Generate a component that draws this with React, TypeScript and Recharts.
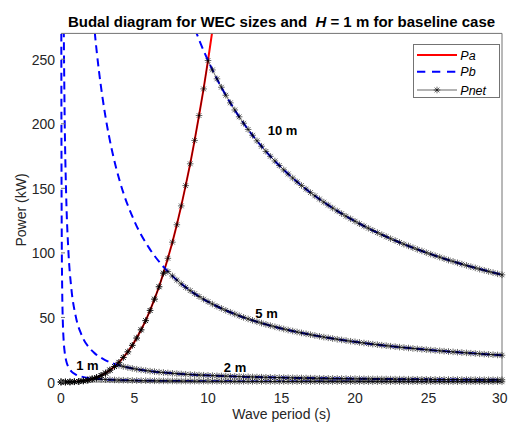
import React from "react";
import { LineChart, Line, XAxis, YAxis, ReferenceDot } from "recharts";

// wave periods (s) used for the net power curves, 0..30
const PERIODS = [
  0, 0.3, 0.61, 0.91, 1.21, 1.52, 1.82, 2.12, 2.42, 2.73, 3.03, 3.33, 3.64, 3.94, 4.24, 4.55, 4.85, 5.15, 5.45, 5.76,
  6.06, 6.36, 6.67, 6.97, 7.27, 7.58, 7.88, 8.18, 8.48, 8.79, 9.09, 9.39, 9.7, 10, 10.3, 10.61, 10.91, 11.21, 11.52, 11.82,
  12.12, 12.42, 12.73, 13.03, 13.33, 13.64, 13.94, 14.24, 14.55, 14.85, 15.15, 15.45, 15.76, 16.06, 16.36, 16.67, 16.97,
  17.27, 17.58, 17.88, 18.18, 18.48, 18.79, 19.09, 19.39, 19.7, 20, 20.3, 20.61, 20.91, 21.21, 21.52, 21.82, 22.12, 22.42,
  22.73, 23.03, 23.33, 23.64, 23.94, 24.24, 24.55, 24.85, 25.15, 25.45, 25.76, 26.06, 26.36, 26.67, 26.97, 27.27, 27.58,
  27.88, 28.18, 28.48, 28.79, 29.09, 29.39, 29.7, 30,
];

// Pa (kW), red curve, on the first PERIODS
const PA = [
  0, 0.01, 0.06, 0.19, 0.44, 0.87, 1.5, 2.38, 3.55, 5.05, 6.93, 9.22, 11.97, 15.22, 19.01, 23.38, 28.38, 34.04, 40.41,
  47.53, 55.43, 64.17, 73.78, 84.31, 95.79, 108.3, 121.8, 136.4, 152.1, 169, 187.1, 206.4, 227, 249, 272.3, 297.1,
];

// Pnet (kW) per WEC size
const PNET_10 = [
  0, 0.01, 0.06, 0.19, 0.44, 0.87, 1.5, 2.38, 3.55, 5.05, 6.93, 9.22, 11.97, 15.22, 19.01, 23.38, 28.38, 34.04, 40.41,
  47.53, 55.43, 64.17, 73.78, 84.31, 95.79, 108.3, 121.8, 136.4, 152.1, 169, 187.1, 206.4, 227, 249,
  241.7, 234.8, 228.3, 222.1, 216.2, 210.7, 205.4, 200.4, 195.6, 191.1, 186.8, 182.6, 178.6, 174.8, 171.2, 167.7, 164.3,
  161.1, 158, 155, 152.2, 149.4, 146.7, 144.2, 141.7, 139.3, 137, 134.7, 132.5, 130.4, 128.4, 126.4, 124.5, 122.6, 120.8,
  119.1, 117.4, 115.7, 114.1, 112.6, 111, 109.6, 108.1, 106.7, 105.4, 104, 102.7, 101.5, 100.2, 99, 97.8, 96.7, 95.5,
  94.4, 93.4, 92.3, 91.3, 90.3, 89.3, 88.4, 87.4, 86.5, 85.6, 84.7, 83.8, 83,
];
const PNET_5 = [
  0, 0.01, 0.06, 0.19, 0.44, 0.87, 1.5, 2.38, 3.55, 5.05, 6.93, 9.22, 11.97, 15.22, 19.01, 23.38, 28.38, 34.04, 40.41,
  47.53, 55.43, 64.17, 73.78, 84.31,
  85.53, 82.1, 78.95, 76.02, 73.31, 70.78, 68.42, 66.21, 64.14, 62.2, 60.37, 58.65, 57.02, 55.48, 54.02, 52.63, 51.32,
  50.06, 48.87, 47.74, 46.65, 45.61, 44.62, 43.67, 42.76, 41.89, 41.05, 40.25, 39.47, 38.73, 38.01, 37.32, 36.65, 36.01,
  35.39, 34.79, 34.21, 33.65, 33.11, 32.58, 32.07, 31.58, 31.1, 30.64, 30.19, 29.75, 29.32, 28.91, 28.51, 28.12, 27.74,
  27.37, 27.01, 26.66, 26.32, 25.98, 25.66, 25.34, 25.03, 24.73, 24.44, 24.15, 23.87, 23.59, 23.32, 23.06, 22.81, 22.56,
  22.31, 22.07, 21.84, 21.61, 21.38, 21.16, 20.94, 20.73,
];
const PNET_2 = [
  0, 0.01, 0.06, 0.19, 0.44, 0.87, 1.5, 2.38, 3.55, 5.05, 6.93, 9.22, 11.97,
  12.95, 12.02, 11.22, 10.52, 9.9, 9.35, 8.86, 8.42, 8.01, 7.65, 7.32, 7.01, 6.73, 6.47, 6.23, 6.01, 5.8, 5.61, 5.43,
  5.26, 5.1, 4.95, 4.81, 4.68, 4.55, 4.43, 4.32, 4.21, 4.1, 4.01, 3.91, 3.83, 3.74, 3.66, 3.58, 3.51, 3.43, 3.37, 3.3,
  3.24, 3.18, 3.12, 3.06, 3.01, 2.95, 2.9, 2.85, 2.81, 2.76, 2.71, 2.67, 2.63, 2.59, 2.55, 2.51, 2.48, 2.44, 2.4, 2.37,
  2.34, 2.31, 2.27, 2.24, 2.21, 2.19, 2.16, 2.13, 2.1, 2.08, 2.05, 2.03, 2, 1.98, 1.96, 1.93, 1.91, 1.89, 1.87, 1.85,
  1.83, 1.81, 1.79, 1.77, 1.75, 1.74, 1.72, 1.7,
];
const PNET_1 = [
  0, 0.01, 0.06, 0.19, 0.44, 0.87, 1.5, 2.38,
  2.39, 2.13, 1.91, 1.74, 1.6, 1.47, 1.37, 1.28, 1.2, 1.13, 1.06, 1.01, 0.96, 0.91, 0.87, 0.83, 0.8, 0.77, 0.74, 0.71,
  0.68, 0.66, 0.64, 0.62, 0.6, 0.58, 0.56, 0.55, 0.53, 0.52, 0.5, 0.49, 0.48, 0.47, 0.46, 0.45, 0.44, 0.43, 0.42, 0.41,
  0.4, 0.39, 0.38, 0.38, 0.37, 0.36, 0.35, 0.35, 0.34, 0.34, 0.33, 0.32, 0.32, 0.31, 0.31, 0.3, 0.3, 0.29, 0.29, 0.29,
  0.28, 0.28, 0.27, 0.27, 0.27, 0.26, 0.26, 0.26, 0.25, 0.25, 0.25, 0.24, 0.24, 0.24, 0.23, 0.23, 0.23, 0.23, 0.22,
  0.22, 0.22, 0.22, 0.21, 0.21, 0.21, 0.21, 0.2, 0.2, 0.2, 0.2, 0.2, 0.19,
];

// Pb (kW), blue dashed curves, sampled on their own periods
const PB_PERIODS = [
  0.02, 0.03, 0.05, 0.08, 0.12, 0.18, 0.25, 0.35, 0.5, 0.7, 1, 1.4, 2, 2.3, 2.6, 3, 3.5, 4, 5, 6, 7, 8, 8.8, 9.5, 10.5,
  12, 14, 16, 18, 20, 23, 26, 30,
];
const PB_10 = [
  null, null, null, null, null, null, null, null, null, null, null, null, null, null, null, null, null, null, null, null,
  null, null, 282.95, 262.1, 237.14, 207.5, 177.86, 155.63, 138.33, 124.5, 108.26, 95.77, 83,
];
const PB_5 = [
  null, null, null, null, null, null, null, null, null, null, null, null, 311, 270.43, 239.23, 207.33, 177.71, 155.5,
  124.4, 103.67, 88.86, 77.75, 70.68, 65.47, 59.24, 51.83, 44.43, 38.88, 34.56, 31.1, 27.04, 23.92, 20.73,
];
const PB_2 = [
  null, null, null, null, null, 283.3, 204, 145.7, 102, 72.86, 51, 36.43, 25.5, 22.17, 19.62, 17, 14.57, 12.75, 10.2,
  8.5, 7.29, 6.38, 5.8, 5.37, 4.86, 4.25, 3.64, 3.19, 2.83, 2.55, 2.22, 1.96, 1.7,
];
const PB_1 = [
  290, 193.3, 116, 72.5, 48.33, 32.22, 23.2, 16.57, 11.6, 8.29, 5.8, 4.14, 2.9, 2.52, 2.23, 1.93, 1.66, 1.45, 1.16,
  0.97, 0.83, 0.73, 0.66, 0.61, 0.55, 0.48, 0.41, 0.36, 0.32, 0.29, 0.25, 0.22, 0.19,
];

const X_TICKS = [0, 5, 10, 15, 20, 25, 30];
const Y_TICKS = [0, 50, 100, 150, 200, 250];

const SIZE_LABELS = [
  { text: "10 m", t: 15.07, p: 195.2 },
  { text: "5 m", t: 13.98, p: 53.5 },
  { text: "2 m", t: 11.84, p: 11 },
  { text: "1 m", t: 1.8, p: 13.2 },
];

const netData = PERIODS.map((t, i) => ({ t, n10: PNET_10[i], n5: PNET_5[i], n2: PNET_2[i], n1: PNET_1[i] }));
const paData = PA.map((p, i) => ({ t: PERIODS[i], p }));
const pbData = PB_PERIODS.map((t, i) => ({ t, b10: PB_10[i], b5: PB_5[i], b2: PB_2[i], b1: PB_1[i] }));

const FONT = '"Liberation Sans", Arial, Helvetica, sans-serif';
const AXIS = "#737373";
const INK = "#262626";
const RED = "#ff0000";
const BLUE = "#0000ff";

// plot box inside the svg (left edge / bottom edge)
const PLOT_LEFT = 53;
const PLOT_BOTTOM = 374;

function starPath(cx: number, cy: number) {
  const a = 3.3;
  const b = 2.4;
  return `M${cx - a},${cy}H${cx + a}M${cx},${cy - a}V${cy + a}M${cx - b},${cy - b}L${cx + b},${cy + b}M${cx - b},${cy + b}L${cx + b},${cy - b}`;
}

const renderStar = (p: any) => {
  if (p.cx == null || p.cy == null) return <g key={`s-${p.index}`} />;
  return <path key={`s-${p.index}`} d={starPath(p.cx, p.cy)} stroke="#000" strokeWidth={0.6} fill="none" />;
};

// ticks point inward, like the original figure
function XTick(props: any) {
  const { x, payload } = props;
  const last = payload.value === X_TICKS[X_TICKS.length - 1];
  return (
    <g>
      <line x1={x} x2={x} y1={PLOT_BOTTOM} y2={PLOT_BOTTOM - 4} stroke={AXIS} />
      <text
        x={last ? x + 5.5 : x}
        y={394.7}
        textAnchor={last ? "end" : "middle"}
        fill={INK}
        fontSize={14}
        fontFamily={FONT}
      >
        {payload.value}
      </text>
    </g>
  );
}

function YTick(props: any) {
  const { y, payload } = props;
  return (
    <g>
      <line x1={PLOT_LEFT} x2={PLOT_LEFT + 4} y1={y} y2={y} stroke={AXIS} />
      <text x={PLOT_LEFT - 6} y={y + 5.5} textAnchor="end" fill={INK} fontSize={14} fontFamily={FONT}>
        {payload.value}
      </text>
    </g>
  );
}

function LegendBox() {
  return (
    <div
      style={{
        position: "absolute",
        left: 404.7,
        top: 36,
        width: 87.3,
        height: 54.3,
        boxSizing: "border-box",
        border: `1px solid ${AXIS}`,
        background: "#fff",
      }}
    >
      <svg width={86} height={53} style={{ position: "absolute", left: 0, top: 0 }}>
        <line x1={3} y1={10} x2={43} y2={10} stroke={RED} strokeWidth={2} />
        <line x1={3} y1={26.7} x2={43} y2={26.7} stroke={BLUE} strokeWidth={2} strokeDasharray="8.3 6.7" />
        <line x1={3} y1={45} x2={43} y2={45} stroke="#000" strokeWidth={0.6} />
        <path d={starPath(23, 45)} stroke="#000" strokeWidth={0.6} fill="none" />
        {["Pa", "Pb", "Pnet"].map((s, i) => (
          <text key={s} x={46.3} y={[10, 26.7, 45][i] + 4.5} fontFamily={FONT} fontSize={12.5} fontStyle="italic" fill="#000">
            {s}
          </text>
        ))}
      </svg>
    </div>
  );
}

export default function App() {
  return (
    <div style={{ width: 500, height: 415, padding: "8px 0 0 8px", fontFamily: FONT }}>
      <style>{"body{margin:0}"}</style>
      <div style={{ position: "relative", width: 500, height: 415 }}>
        <div
          style={{
            position: "absolute",
            left: 273.5,
            top: 6.2,
            transform: "translateX(-50%)",
            fontSize: 15,
            lineHeight: "15px",
            fontWeight: "bold",
            whiteSpace: "pre",
            color: "#000",
          }}
        >
          {"Budal diagram for WEC sizes and  "}
          <i>H</i>
          {" = 1 m for baseline case"}
        </div>
        <LineChart width={500} height={415} margin={{ top: 24.4, right: 5, left: 0, bottom: 0 }}>
          <XAxis
            xAxisId="x"
            dataKey="t"
            type="number"
            domain={[0, 30]}
            ticks={X_TICKS}
            interval={0}
            height={41}
            tickLine={false}
            tickSize={0}
            stroke={AXIS}
            tick={<XTick />}
          />
          <XAxis
            xAxisId="top"
            orientation="top"
            dataKey="t"
            type="number"
            domain={[0, 30]}
            ticks={X_TICKS}
            interval={0}
            height={1}
            tickSize={-4}
            tick={false}
            stroke={AXIS}
          />
          <YAxis
            yAxisId="y"
            type="number"
            domain={[0, 270]}
            allowDataOverflow
            ticks={Y_TICKS}
            interval={0}
            width={53}
            tickLine={false}
            tickSize={0}
            stroke={AXIS}
            tick={<YTick />}
          />
          <YAxis
            yAxisId="right"
            orientation="right"
            type="number"
            domain={[0, 270]}
            ticks={Y_TICKS}
            interval={0}
            width={1}
            tickSize={-4}
            tick={false}
            stroke={AXIS}
          />
          <YAxis yAxisId="net" type="number" domain={[0, 270]} hide />

          <Line xAxisId="x" yAxisId="y" data={paData} dataKey="p" type="linear" stroke={RED} strokeWidth={2} dot={false} isAnimationActive={false} />
          {["b10", "b5", "b2", "b1"].map((k) => (
            <Line
              key={k}
              xAxisId="x"
              yAxisId="y"
              data={pbData}
              dataKey={k}
              type="monotone"
              stroke={BLUE}
              strokeWidth={2}
              strokeDasharray="8 5"
              dot={false}
              isAnimationActive={false}
            />
          ))}
          {["n10", "n5", "n2", "n1"].map((k) => (
            <Line
              key={k}
              xAxisId="x"
              yAxisId="net"
              data={netData}
              dataKey={k}
              type="linear"
              stroke="#000"
              strokeWidth={0.6}
              dot={renderStar}
              activeDot={false}
              isAnimationActive={false}
            />
          ))}
          {SIZE_LABELS.map((l) => (
            <ReferenceDot
              key={l.text}
              xAxisId="x"
              yAxisId="y"
              x={l.t}
              y={l.p}
              r={0}
              fill="none"
              stroke="none"
              label={{ value: l.text, position: "center", fill: "#000", fontSize: 13, fontWeight: "bold", fontFamily: FONT }}
            />
          ))}
        </LineChart>
        <div
          style={{
            position: "absolute",
            left: 273.5,
            top: 399.3,
            transform: "translateX(-50%)",
            fontSize: 14,
            lineHeight: "14px",
            color: INK,
            whiteSpace: "nowrap",
          }}
        >
          Wave period (s)
        </div>
        <div
          style={{
            position: "absolute",
            left: 12.5,
            top: 202,
            transform: "translate(-50%, -50%) rotate(-90deg)",
            fontSize: 14,
            lineHeight: "14px",
            color: INK,
            whiteSpace: "nowrap",
          }}
        >
          Power (kW)
        </div>
        <LegendBox />
      </div>
    </div>
  );
}
